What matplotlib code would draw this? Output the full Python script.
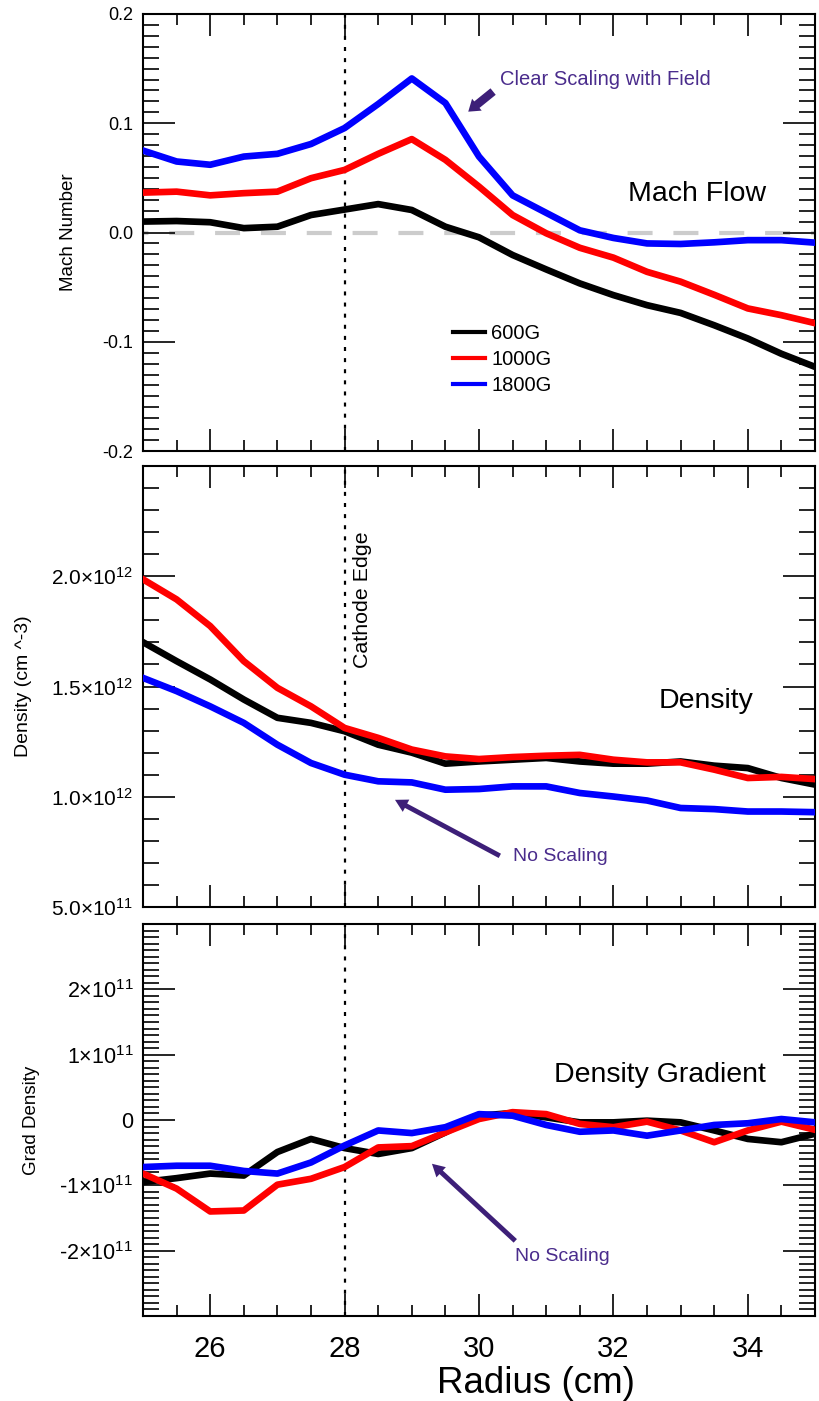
import matplotlib
matplotlib.use('Agg')
from matplotlib import pyplot as plt
from matplotlib.lines import Line2D
from matplotlib.ticker import MultipleLocator
import numpy as np

plt.rcParams['font.family'] = ['Liberation Sans', 'DejaVu Sans']
plt.rcParams['mathtext.fontset'] = 'custom'
plt.rcParams['mathtext.rm'] = 'Liberation Sans'
plt.rcParams['mathtext.it'] = 'Liberation Sans'

# Data (radius in cm, every 0.5 cm)
radius = np.arange(25.0, 35.01, 0.5)
fields = ['600G', '1000G', '1800G']
colors = ['black', 'red', 'blue']

mach_600 = [0.010, 0.0105, 0.0094, 0.004, 0.0053, 0.016, 0.021, 0.026, 0.0206, 0.0053, -0.0044,
            -0.0206, -0.0338, -0.0466, -0.0573, -0.0665, -0.0736, -0.0849, -0.097, -0.111, -0.123]
mach_1000 = [0.0365, 0.0374, 0.034, 0.036, 0.0374, 0.0497, 0.0573, 0.072, 0.0855, 0.0665, 0.042,
             0.016, -0.0007, -0.014, -0.023, -0.036, -0.045, -0.057, -0.0695, -0.0757, -0.083]
mach_1800 = [0.075, 0.065, 0.062, 0.0695, 0.072, 0.081, 0.0956, 0.1176, 0.141, 0.1185, 0.0695,
             0.034, 0.018, 0.002, -0.005, -0.010, -0.0105, -0.009, -0.007, -0.007, -0.0093]

# density in units of 1e12 cm^-3
dens_600 = [1.701, 1.615, 1.532, 1.441, 1.358, 1.335, 1.297, 1.236, 1.20, 1.15, 1.16,
            1.168, 1.176, 1.16, 1.15, 1.15, 1.16, 1.141, 1.13, 1.085, 1.055]
dens_1000 = [1.986, 1.895, 1.774, 1.615, 1.494, 1.41, 1.312, 1.267, 1.214, 1.183, 1.171,
             1.18, 1.186, 1.19, 1.168, 1.156, 1.156, 1.123, 1.085, 1.09, 1.08]
dens_1800 = [1.539, 1.479, 1.41, 1.335, 1.236, 1.153, 1.10, 1.07, 1.065, 1.032, 1.035,
             1.047, 1.047, 1.017, 1.001, 0.983, 0.949, 0.944, 0.933, 0.933, 0.93]

# density gradient in units of 1e11
grad_600 = [-0.95, -0.89, -0.82, -0.85, -0.49, -0.29, -0.43, -0.52, -0.43, -0.19, 0.066,
            0.107, 0.04, -0.036, -0.036, -0.01, -0.036, -0.16, -0.29, -0.34, -0.21]
grad_1000 = [-0.82, -1.05, -1.40, -1.385, -0.99, -0.90, -0.72, -0.42, -0.40, -0.19, 0.015,
             0.12, 0.09, -0.06, -0.11, -0.025, -0.16, -0.34, -0.16, -0.025, -0.15]
grad_1800 = [-0.72, -0.70, -0.70, -0.78, -0.82, -0.65, -0.39, -0.16, -0.20, -0.11, 0.09,
             0.066, -0.076, -0.18, -0.16, -0.24, -0.16, -0.076, -0.05, 0.015, -0.036]

mach = [mach_600, mach_1000, mach_1800]
dens = [np.array(d) * 1e12 for d in (dens_600, dens_1000, dens_1800)]
grad = [np.array(g) * 1e11 for g in (grad_600, grad_1000, grad_1800)]

cathode_edge = 28.0
purple_text = '#4a2c8c'
purple_arrow = '#3d1f78'

mach_ticks = [-0.2, -0.1, 0.0, 0.1, 0.2]
mach_labels = ['-0.2', '-0.1', '0.0', '0.1', '0.2']
dens_ticks = [0.5e12, 1.0e12, 1.5e12, 2.0e12]
dens_labels = [r'$5.0{\times}10^{11}$', r'$1.0{\times}10^{12}$',
               r'$1.5{\times}10^{12}$', r'$2.0{\times}10^{12}$']
grad_ticks = [-2e11, -1e11, 0, 1e11, 2e11]
grad_labels = [r'-$2{\times}10^{11}$', r'-$1{\times}10^{11}$', '0',
               r'$1{\times}10^{11}$', r'$2{\times}10^{11}$']

fig = plt.figure(figsize=(8.2, 14.01), dpi=100)
W, H = 820.0, 1401.0


def make_axes(top, bottom):
    return fig.add_axes([143 / W, 1 - bottom / H, (815 - 143) / W, (bottom - top) / H])


def style(ax, ymajor, yminor):
    ax.set_xlim(25, 35)
    ax.xaxis.set_major_locator(MultipleLocator(2))
    ax.xaxis.set_minor_locator(MultipleLocator(0.5))
    ax.yaxis.set_major_locator(MultipleLocator(ymajor))
    ax.yaxis.set_minor_locator(MultipleLocator(yminor))
    ax.tick_params(axis='both', which='both', direction='in', top=True, right=True,
                   width=1.2, color='black')
    ax.tick_params(axis='x', which='major', length=16)
    ax.tick_params(axis='x', which='minor', length=8)
    ax.tick_params(axis='y', which='major', length=23, labelsize=13, pad=7)
    ax.tick_params(axis='y', which='minor', length=11.5)
    for s in ax.spines.values():
        s.set_linewidth(1.5)
    ax.axvline(cathode_edge, color='black', lw=1.6, linestyle=(0, (1.8, 3.2)), zorder=1)


# ---- Mach flow
ax1 = make_axes(14, 451)
ax1.axhline(0.0, color='#cccccc', lw=3, linestyle=(4.7, (6, 5)), zorder=1)
for y, c in zip(mach, colors):
    ax1.plot(radius, y, color=c, lw=4.8, zorder=3)
ax1.set_ylim(-0.2, 0.2)
style(ax1, 0.1, 0.01)
ax1.set_yticks(mach_ticks)
ax1.set_yticklabels(mach_labels)
ax1.set_xticklabels([])
ax1.set_ylabel('Mach Number', fontsize=13.5)
ax1.yaxis.set_label_coords(-0.098, 0.5)
ax1.text(32.22, 0.0353, 'Mach Flow', fontsize=20.5, va='center', ha='left')
ax1.text(30.31, 0.140, 'Clear Scaling with Field', fontsize=14.5, color=purple_text,
         va='center', ha='left')
ax1.annotate('', xy=(29.84, 0.1106), xytext=(30.21, 0.129),
             arrowprops=dict(arrowstyle='simple,head_width=1.1,head_length=0.8,tail_width=0.6',
                             color=purple_arrow, lw=0, shrinkA=0, shrinkB=0))
handles = [Line2D([], [], color=c, lw=3) for c in colors]
ax1.legend(handles, fields, loc='upper left', bbox_to_anchor=(0.461, 0.29), frameon=False,
           fontsize=14.5, handlelength=1.6, handletextpad=0.3, labelspacing=0.35,
           borderaxespad=0, borderpad=0)

# ---- Density
ax2 = make_axes(466, 907)
for y, c in zip(dens, colors):
    ax2.plot(radius, y, color=c, lw=4.8, zorder=3)
ax2.set_ylim(0.5e12, 2.5e12)
style(ax2, 0.5e12, 1e11)
ax2.set_yticks(dens_ticks)
ax2.set_yticklabels(dens_labels, fontsize=15)
ax2.set_xticklabels([])
ax2.set_ylabel('Density (cm ^-3)', fontsize=14)
ax2.yaxis.set_label_coords(-0.165, 0.5)
ax2.text(28.26, 1.895e12, 'Cathode Edge', fontsize=15.4, rotation=90, va='center', ha='center')
ax2.text(32.68, 1.432e12, 'Density', fontsize=20.5, va='center', ha='left')
ax2.text(30.51, 0.727e12, 'No Scaling', fontsize=14, color=purple_text, va='center', ha='left')
ax2.annotate('', xy=(28.75, 0.986e12), xytext=(30.31, 0.732e12),
             arrowprops=dict(arrowstyle='simple,head_width=1.0,head_length=0.9,tail_width=0.35',
                             color=purple_arrow, lw=0, shrinkA=0, shrinkB=0))

# ---- Density gradient
ax3 = make_axes(924, 1316)
for y, c in zip(grad, colors):
    ax3.plot(radius, y, color=c, lw=4.8, zorder=3)
ax3.set_ylim(-3e11, 3e11)
style(ax3, 1e11, 1e10)
ax3.set_yticks(grad_ticks)
ax3.set_yticklabels(grad_labels, fontsize=15.5)
ax3.set_xticks([26, 28, 30, 32, 34])
ax3.tick_params(axis='x', which='major', labelsize=21, pad=14)
ax3.set_ylabel('Grad Density', fontsize=13.5)
ax3.yaxis.set_label_coords(-0.153, 0.5)
ax3.set_xlabel('Radius (cm)', fontsize=26.5, va='center')
ax3.xaxis.set_label_coords(0.585, -0.171)
ax3.text(31.12, 0.687e11, 'Density Gradient', fontsize=20.5, va='center', ha='left')
ax3.text(30.54, -2.09e11, 'No Scaling', fontsize=14, color=purple_text, va='center', ha='left')
ax3.annotate('', xy=(29.30, -0.67e11), xytext=(30.54, -1.85e11),
             arrowprops=dict(arrowstyle='simple,head_width=1.0,head_length=0.9,tail_width=0.35',
                             color=purple_arrow, lw=0, shrinkA=0, shrinkB=0))

fig.savefig('out.png', dpi=100)
